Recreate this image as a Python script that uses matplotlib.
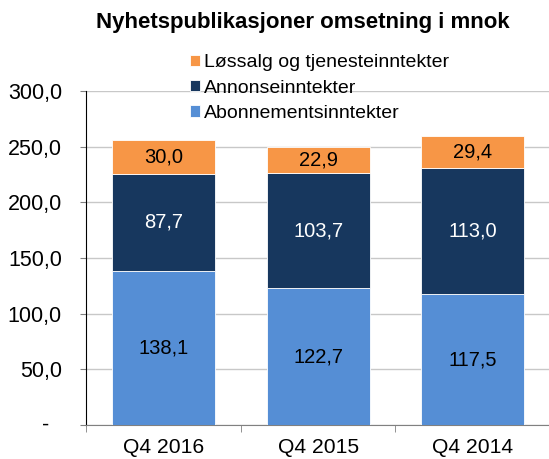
import numpy as np
import matplotlib.pyplot as plt

plt.rcParams['font.family'] = ['Liberation Sans', 'DejaVu Sans']

kvartaler = ['Q4 2016', 'Q4 2015', 'Q4 2014']
abonnement = [138.1, 122.7, 117.5]
annonse = [87.7, 103.7, 113.0]
lossalg = [30.0, 22.9, 29.4]

fig = plt.figure(figsize=(5.49, 4.59), dpi=100)
ax = fig.add_axes([0.157, 0.074, 0.845, 0.728])

x = np.arange(len(kvartaler))
b = 0.666
c1 = '#558ED5'
c2 = '#17375E'
c3 = '#F79646'

ax.bar(x, abonnement, b, color=c1, edgecolor='white', linewidth=0.6, label='Abonnementsinntekter', zorder=3)
ax.bar(x, annonse, b, bottom=abonnement, color=c2, edgecolor='white', linewidth=0.6, label='Annonseinntekter', zorder=3)
bunn = np.array(abonnement) + np.array(annonse)
ax.bar(x, lossalg, b, bottom=bunn, color=c3, edgecolor='white', linewidth=0.6, label='Løssalg og tjenesteinntekter', zorder=3)

def fmt(v):
    return ('%.1f' % v).replace('.', ',')

for i in range(len(x)):
    ax.text(x[i], abonnement[i] / 2, fmt(abonnement[i]), ha='center', va='center', fontsize=14.5, color='black', zorder=4)
    ax.text(x[i], abonnement[i] + annonse[i] / 2, fmt(annonse[i]), ha='center', va='center', fontsize=14.5, color='white', zorder=4)
    ax.text(x[i], bunn[i] + lossalg[i] / 2, fmt(lossalg[i]), ha='center', va='center', fontsize=14.5, color='black', zorder=4)

ax.set_xlim(-0.5, 2.5)
ax.set_ylim(0, 300)
ax.set_yticks(np.arange(0, 301, 50))
ax.set_yticklabels([''] + [fmt(v) for v in np.arange(50, 301, 50)], fontsize=15.5)
ax.yaxis.grid(True, color='#C8C8C8', linewidth=1, zorder=0)
ax.tick_params(axis='y', length=4.5, color='#808080', pad=13)
# null shown as "-", set a bit left like Excel's accounting format
ax.text(-0.080, 0, '-', transform=ax.get_yaxis_transform(), ha='right', va='center', fontsize=15.5)

ax.set_xticks(x)
ax.set_xticklabels(kvartaler, fontsize=15.2)
ax.tick_params(axis='x', length=0, pad=9)
ax.set_xticks([-0.5, 0.5, 1.5, 2.5], minor=True)
ax.tick_params(axis='x', which='minor', length=5, color='#808080')

for s in ['top', 'right']:
    ax.spines[s].set_visible(False)
ax.spines['left'].set_color('black')
ax.spines['bottom'].set_color('#808080')

h, l = ax.get_legend_handles_labels()
fig.legend(h[::-1], l[::-1], loc='upper left', bbox_to_anchor=(0.346, 0.882), frameon=False,
           fontsize=14, handlelength=0.52, handleheight=0.52, handletextpad=0.2, labelspacing=0.43,
           borderpad=0, borderaxespad=0)

fig.text(0.551, 0.950, 'Nyhetspublikasjoner omsetning i mnok', ha='center', va='center',
         fontsize=16, fontweight='bold')

plt.savefig('out.png', dpi=100)
